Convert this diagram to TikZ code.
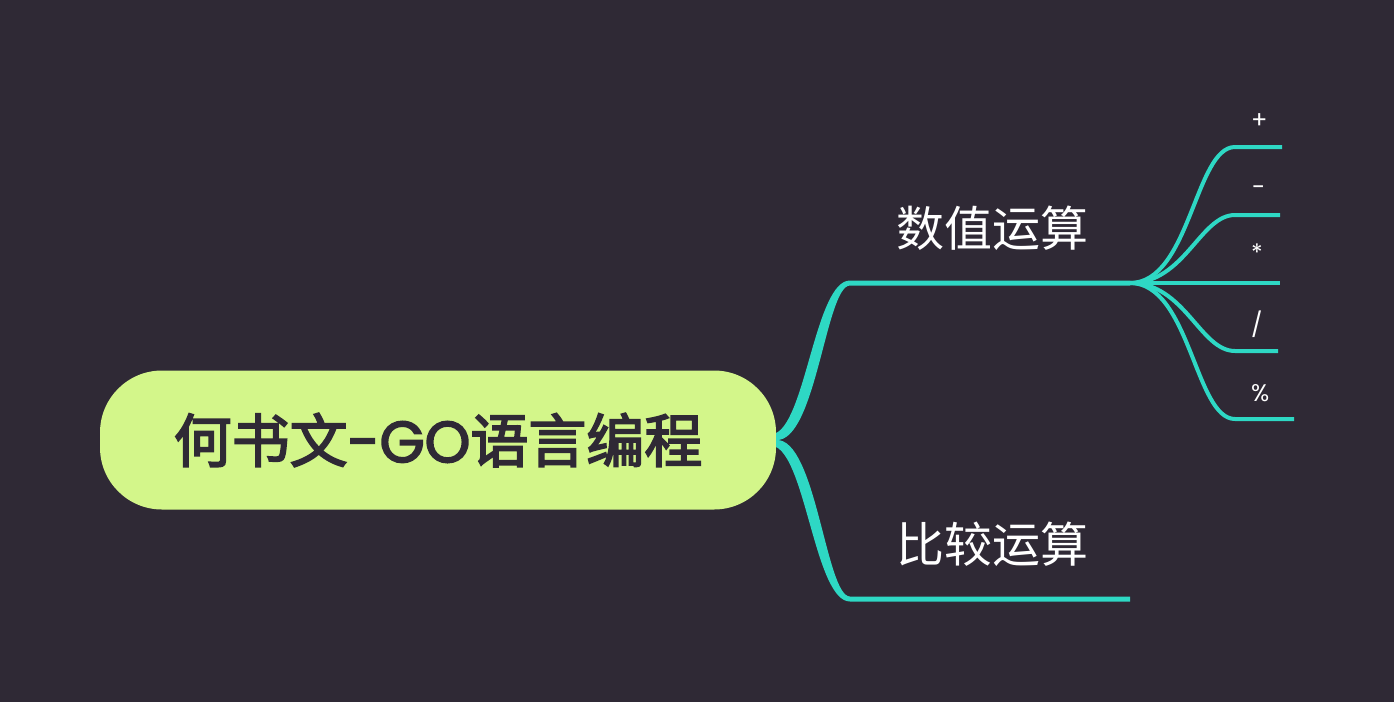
\documentclass[tikz,border=0pt]{standalone}
\usepackage{fontspec}
\newfontfamily\cjk{Noto Sans CJK SC}
\newfontfamily\cjkmid[FakeBold=3]{Noto Sans CJK SC}
\newfontfamily\latin{Poppins}
\newfontfamily\latinmid[FakeBold=3]{Poppins}
\definecolor{bgdark}{RGB}{47,41,53}
\definecolor{lime}{RGB}{211,246,138}
\definecolor{teal}{RGB}{46,216,196}
\begin{document}
\begin{tikzpicture}[
        x=1pt, y=-1pt,
        rootbox/.style={rectangle, rounded corners=62pt, fill=lime, minimum width=676pt, minimum height=139pt, text=bgdark, inner sep=0pt},
        branch/.style={text=white, font=\fontsize{48}{52}\selectfont\cjk, inner sep=0pt, anchor=base},
        leaf/.style={text=white, font=\fontsize{24}{28}\selectfont\latin, inner sep=0pt, anchor=base west},
        thickfill/.style={fill=teal},
        thinline/.style={teal, line width=4pt}
    ]
        \useasboundingbox[fill=bgdark] (0,0) rectangle (1394,702);

        \node[rootbox] (root) at (438,440) {\fontsize{58}{60}\selectfont\cjkmid 何书文{\latinmid -GO}语言编程};

        \node[branch] (numop) at (992,246) {数值运算};
        \node[branch] (cmpop) at (992,562) {比较运算};
        \coordinate (numL) at (850,283);
        \coordinate (numR) at (1130,283);
        \coordinate (cmpL) at (850,599);
        \coordinate (cmpR) at (1130,599);

        % tapered branches
        \fill[thickfill] ([yshift=7pt]root.east) .. controls (806,418) and (816,280.5) .. ([yshift=2.5pt]numL)
            -- ([yshift=2.5pt]numR) -- ([yshift=-2.5pt]numR) -- ([yshift=-2.5pt]numL)
            .. controls (826,285.5) and (816,442) .. (root.east) -- cycle;
        \fill[thickfill] ([yshift=-7pt]root.east) .. controls (806,462) and (816,601.5) .. ([yshift=-2.5pt]cmpL)
            -- ([yshift=-2.5pt]cmpR) -- ([yshift=2.5pt]cmpR) -- ([yshift=2.5pt]cmpL)
            .. controls (826,596.5) and (816,438) .. (root.east) -- cycle;
        % leaves of numop
        \node[leaf] (plus) at (1251,128) {+};
        \node[leaf] (minus) at (1252,195) {-};
        \node[leaf] (times) at (1251,261) {*};
        \node[leaf] (divide) at (1251,333) {/};
        \node[leaf] (modulo) at (1251,401) {\%};

        \draw[thinline] (numR) .. controls (1190,283) and (1195,147) .. (1235,147) -- (1282,147);
        \draw[thinline] (numR) .. controls (1185,283) and (1200,215) .. (1235,215) -- (1280,215);
        \draw[thinline] (numR) -- (1280,283);
        \draw[thinline] (numR) .. controls (1185,283) and (1200,351) .. (1235,351) -- (1278,351);
        \draw[thinline] (numR) .. controls (1190,283) and (1195,419) .. (1235,419) -- (1294,419);
    \end{tikzpicture}
\end{document}
